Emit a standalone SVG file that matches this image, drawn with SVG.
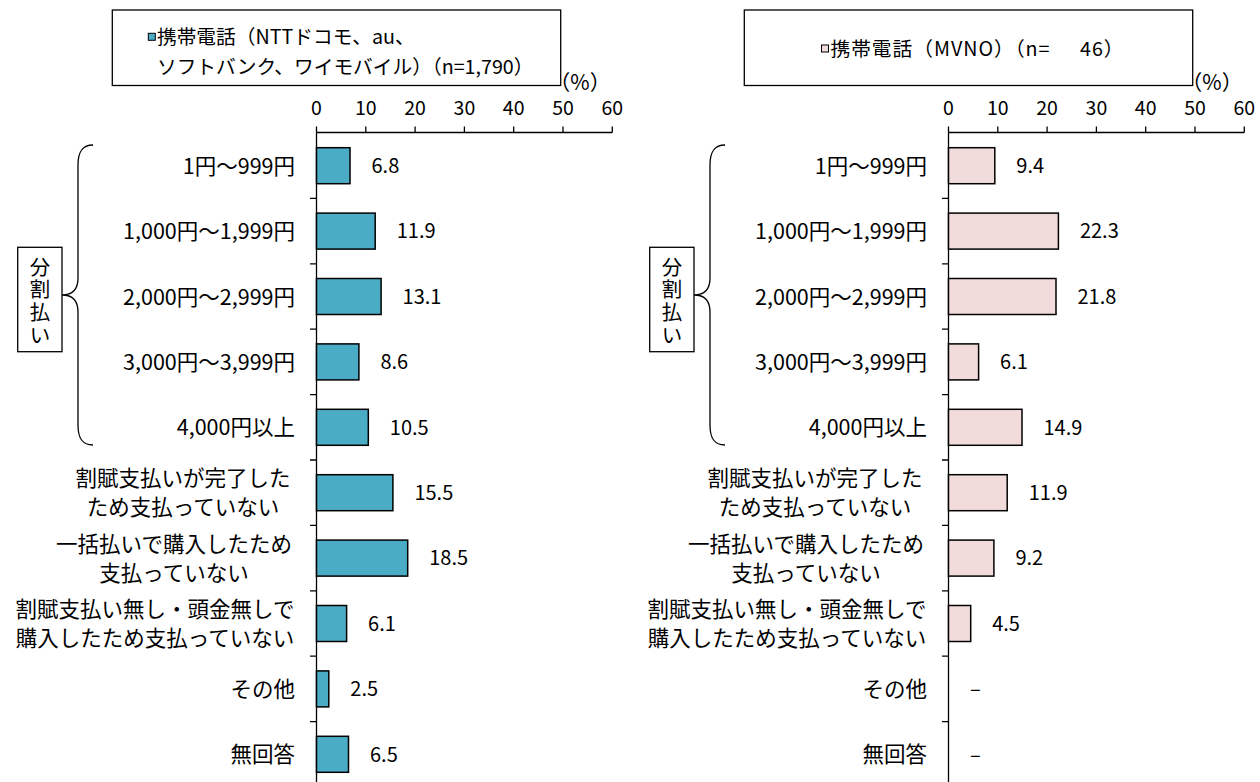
<svg xmlns="http://www.w3.org/2000/svg" width="1260" height="782" viewBox="0 0 1260 782">
<style>
text{font-family:"Noto Sans CJK JP","Noto Sans",sans-serif;fill:#000}
.cat{font-size:21.5px;text-anchor:end}
.cat2{font-size:21.5px;text-anchor:middle}
.val{font-size:20px}
.ax{font-size:19.5px;text-anchor:middle}
.leg{font-size:19.7px}
.vt{font-size:20.5px;text-anchor:middle}
.b1{fill:#4BACC6;stroke:#000;stroke-width:1.5}
.b2{fill:#F2DCDB;stroke:#000;stroke-width:1.5}
.axis{stroke:#000;stroke-width:1.3;fill:none}
.box{fill:#fff;stroke:#000;stroke-width:1.3}
</style>
<defs>
<g id="frame">
<path class="axis" d="M316.5,132.5H612.3M316.5,132.5V782M316.5,126.5V132.5M365.8,126.5V132.5M415.1,126.5V132.5M464.4,126.5V132.5M513.7,126.5V132.5M563,126.5V132.5M612.3,126.5V132.5M310,198.4H316.5M310,263.8H316.5M310,329.2H316.5M310,394.6H316.5M310,460H316.5M310,525.4H316.5M310,590.8H316.5M310,656.2H316.5M310,721.6H316.5"/>
<text class="ax" x="316.5" y="115">0</text>
<text class="ax" x="365.8" y="115">10</text>
<text class="ax" x="415.1" y="115">20</text>
<text class="ax" x="464.4" y="115">30</text>
<text class="ax" x="513.7" y="115">40</text>
<text class="ax" x="563" y="115">50</text>
<text class="ax" x="612.3" y="115">60</text>
<text x="580" y="90" style="font-size:21px;text-anchor:middle">（%）</text>
<path class="axis" d="M93,145C82,145 78,152 78,165L78,278C78,290 72,295 62,295C72,295 78,300 78,312L78,425C78,438 82,445 93,445"/>
<rect class="box" x="17.7" y="247.3" width="44.3" height="104.4"/>
<text class="vt" x="40" y="274.8">分<tspan x="40" y="297.4">割</tspan><tspan x="40" y="320.4">払</tspan><tspan x="40" y="342.8">い</tspan></text>
<text class="cat" x="295" y="173.7">1円〜999円</text>
<text class="cat" x="295" y="239.1">1,000円〜1,999円</text>
<text class="cat" x="295" y="304.5">2,000円〜2,999円</text>
<text class="cat" x="295" y="369.9">3,000円〜3,999円</text>
<text class="cat" x="295" y="435.3">4,000円以上</text>
<text class="cat2" x="183" y="486.2">割賦支払いが完了した</text>
<text class="cat2" x="183" y="515.2">ため支払っていない</text>
<text class="cat2" x="174" y="551.6">一括払いで購入したため</text>
<text class="cat2" x="174" y="580.6">支払っていない</text>
<text class="cat2" x="155" y="617">割賦支払い無し・頭金無しで</text>
<text class="cat2" x="155" y="646">購入したため支払っていない</text>
<text class="cat" x="295" y="696.9">その他</text>
<text class="cat" x="295" y="762.3">無回答</text>
</g>
</defs>
<g id="chart-left">
<use href="#frame"/>
<g id="legend-left">
<rect class="box" x="112.3" y="10" width="448.4" height="75.5"/>
<rect class="b1" x="148.3" y="33.3" width="7" height="7" style="stroke-width:1"/>
<text class="leg" x="157" y="44">携帯電話（NTTドコモ、au、</text>
<text class="leg" x="157" y="73.5">ソフトバンク、ワイモバイル）（n=1,790）</text>
</g>
<g id="bars-left">
<rect class="b1" x="316.5" y="147.7" width="33.5" height="36"/>
<rect class="b1" x="316.5" y="213.1" width="58.7" height="36"/>
<rect class="b1" x="316.5" y="278.5" width="64.6" height="36"/>
<rect class="b1" x="316.5" y="343.9" width="42.4" height="36"/>
<rect class="b1" x="316.5" y="409.3" width="51.8" height="36"/>
<rect class="b1" x="316.5" y="474.7" width="76.4" height="36"/>
<rect class="b1" x="316.5" y="540.1" width="91.2" height="36"/>
<rect class="b1" x="316.5" y="605.5" width="30.1" height="36"/>
<rect class="b1" x="316.5" y="670.9" width="12.3" height="36"/>
<rect class="b1" x="316.5" y="736.3" width="32" height="36"/>
<text class="val" x="371.5" y="173">6.8</text>
<text class="val" x="396.7" y="238.4">11.9</text>
<text class="val" x="402.6" y="303.8">13.1</text>
<text class="val" x="380.4" y="369.2">8.6</text>
<text class="val" x="389.8" y="434.6">10.5</text>
<text class="val" x="414.4" y="500">15.5</text>
<text class="val" x="429.2" y="565.4">18.5</text>
<text class="val" x="368.1" y="630.8">6.1</text>
<text class="val" x="350.3" y="696.2">2.5</text>
<text class="val" x="370" y="761.6">6.5</text>
</g>
</g>
<g id="chart-right" transform="translate(632,0)">
<use href="#frame"/>
<g id="legend-right">
<rect class="box" x="112.3" y="10" width="448.4" height="75.5"/>
<rect class="b2" x="189.5" y="45" width="7" height="7" style="stroke-width:1"/>
<text class="leg" x="198.5" y="55.5" style="letter-spacing:1px">携帯電話（MVNO）（n=  <tspan dx="24">46）</tspan></text>
</g>
<g id="bars-right">
<rect class="b2" x="316.5" y="147.7" width="46.3" height="36"/>
<rect class="b2" x="316.5" y="213.1" width="109.9" height="36"/>
<rect class="b2" x="316.5" y="278.5" width="107.5" height="36"/>
<rect class="b2" x="316.5" y="343.9" width="30.1" height="36"/>
<rect class="b2" x="316.5" y="409.3" width="73.5" height="36"/>
<rect class="b2" x="316.5" y="474.7" width="58.7" height="36"/>
<rect class="b2" x="316.5" y="540.1" width="45.4" height="36"/>
<rect class="b2" x="316.5" y="605.5" width="22.2" height="36"/>
<text class="val" x="384.3" y="173">9.4</text>
<text class="val" x="447.9" y="238.4">22.3</text>
<text class="val" x="445.5" y="303.8">21.8</text>
<text class="val" x="368.1" y="369.2">6.1</text>
<text class="val" x="411.5" y="434.6">14.9</text>
<text class="val" x="396.7" y="500">11.9</text>
<text class="val" x="383.4" y="565.4">9.2</text>
<text class="val" x="360.2" y="630.8">4.5</text>
<text class="val" x="338" y="696.2">–</text>
<text class="val" x="338" y="761.6">–</text>
</g>
</g>
</svg>
